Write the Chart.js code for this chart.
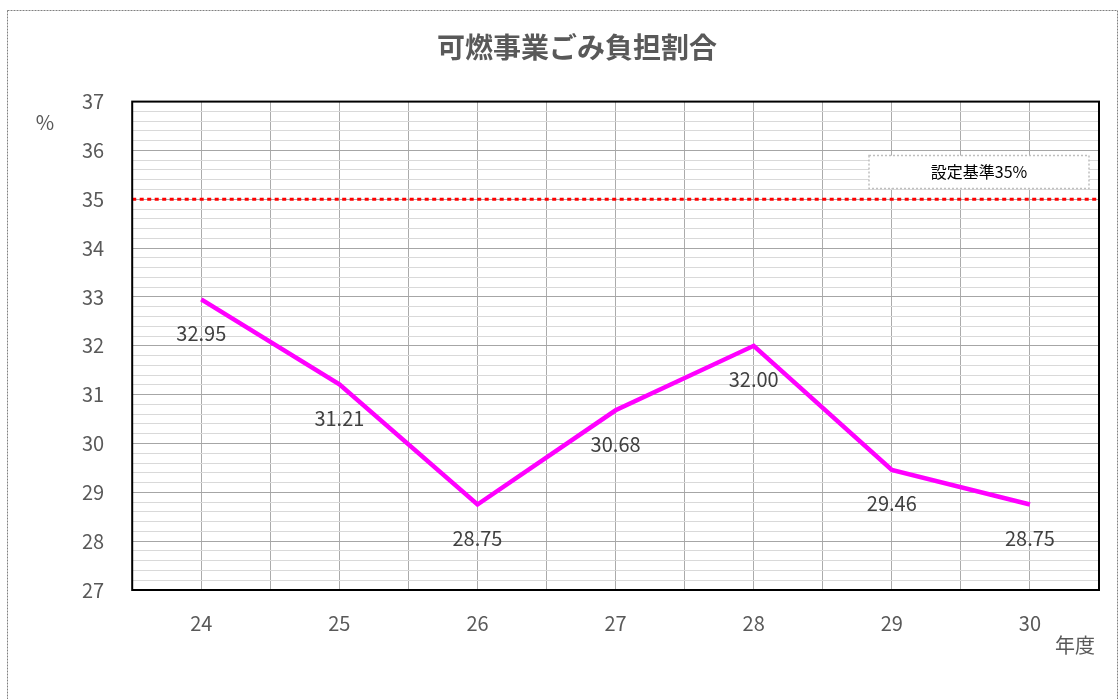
<!DOCTYPE html>
<html>
<head>
<meta charset="utf-8">
<script src="https://cdn.jsdelivr.net/npm/chart.js@4"></script>
<style>
  body { margin: 0; background: #fff; }
  #wrap { width: 1120px; height: 699px; }
</style>
</head>
<body>
<div id="wrap"><canvas id="chart" width="1120" height="699"></canvas></div>
<script>
// chart data
const years = [24, 25, 26, 27, 28, 29, 30];
const shares = [32.95, 31.21, 28.75, 30.68, 32.00, 29.46, 28.75];
const shareLabels = ['32.95', '31.21', '28.75', '30.68', '32.00', '29.46', '28.75'];
const referenceValue = 35;
const referenceText = '設定基準35%';
const yMin = 27, yMax = 37;

const FONT = '"Noto Sans CJK JP", "Noto Sans", sans-serif';
const isInt = v => Math.abs(v - Math.round(v)) < 1e-6;

// extra drawing: reference line, labels, frame, annotation box
const extras = {
  id: 'extras',
  beforeDatasetsDraw(chart) {
    const ctx = chart.ctx, a = chart.chartArea;
    const y = chart.scales.y.getPixelForValue(referenceValue);
    ctx.save();
    ctx.strokeStyle = '#ff0000';
    ctx.lineWidth = 3;
    ctx.setLineDash([4, 3.5]);
    ctx.beginPath();
    ctx.moveTo(a.left, y);
    ctx.lineTo(a.right, y);
    ctx.stroke();
    ctx.restore();
  },
  afterDatasetsDraw(chart) {
    const ctx = chart.ctx, a = chart.chartArea;
    ctx.save();
    // value labels under points
    ctx.font = '20px ' + FONT;
    ctx.fillStyle = '#404040';
    ctx.textAlign = 'center';
    ctx.textBaseline = 'middle';
    chart.getDatasetMeta(0).data.forEach((p, i) => {
      ctx.fillText(shareLabels[i], p.x, p.y + 34);
    });

    // plot frame
    ctx.strokeStyle = '#000';
    ctx.lineWidth = 2;
    ctx.strokeRect(a.left, a.top, a.right - a.left, a.bottom - a.top);

    // annotation box
    const bx = a.right - 230, by = a.top + 54, bw = 220, bh = 33;
    ctx.fillStyle = '#fff';
    ctx.fillRect(bx, by, bw, bh);
    ctx.strokeStyle = '#bfbfbf';
    ctx.lineWidth = 1.5;
    ctx.setLineDash([2, 2]);
    ctx.strokeRect(bx, by, bw, bh);
    ctx.setLineDash([]);
    ctx.fillStyle = '#000';
    ctx.font = '16px ' + FONT;
    ctx.fillText(referenceText, bx + bw / 2, by + bh / 2);

    // axis unit labels
    ctx.fillStyle = '#595959';
    ctx.font = '20px ' + FONT;
    ctx.fillText('%', 45, a.top + 21);
    ctx.fillText('年度', 1075, 645);

    // outer dotted border
    ctx.strokeStyle = '#808080';
    ctx.lineWidth = 1;
    ctx.setLineDash([2, 1]);
    ctx.strokeRect(7.5, 10.5, 1110, 700);
    ctx.restore();
  }
};

new Chart(document.getElementById('chart'), {
  type: 'line',
  data: {
    datasets: [{
      data: years.map((yr, i) => ({ x: yr, y: shares[i] })),
      borderColor: '#ff00ff',
      borderWidth: 4.5,
      pointRadius: 0,
      tension: 0,
      fill: false
    }]
  },
  options: {
    responsive: false,
    animation: false,
    layout: { padding: { left: 54, right: 20, top: 0, bottom: 43 } },
    plugins: {
      legend: { display: false },
      tooltip: { enabled: false },
      title: {
        display: true,
        text: '可燃事業ごみ負担割合',
        color: '#595959',
        font: { family: FONT, size: 28, weight: 'bold' },
        padding: { top: 31, bottom: 37 }
      }
    },
    scales: {
      x: {
        type: 'linear',
        min: years[0] - 0.5,
        max: years[years.length - 1] + 0.5,
        border: { display: false },
        grid: { color: '#ababab', lineWidth: 1, drawTicks: false },
        ticks: {
          stepSize: 0.5,
          padding: 21,
          color: '#595959',
          font: { family: FONT, size: 20 },
          callback: v => isInt(v) ? String(Math.round(v)) : ''
        }
      },
      y: {
        min: yMin,
        max: yMax,
        border: { display: false },
        grid: {
          drawTicks: false,
          color: c => isInt(c.tick.value) ? '#a6a6a6' : '#d9d9d9',
          lineWidth: 1
        },
        ticks: {
          stepSize: 0.2,
          autoSkip: false,
          padding: 28,
          color: '#595959',
          font: { family: FONT, size: 20 },
          callback: v => isInt(v) ? String(Math.round(v)) : ''
        }
      }
    }
  },
  plugins: [extras]
});
</script>
</body>
</html>
